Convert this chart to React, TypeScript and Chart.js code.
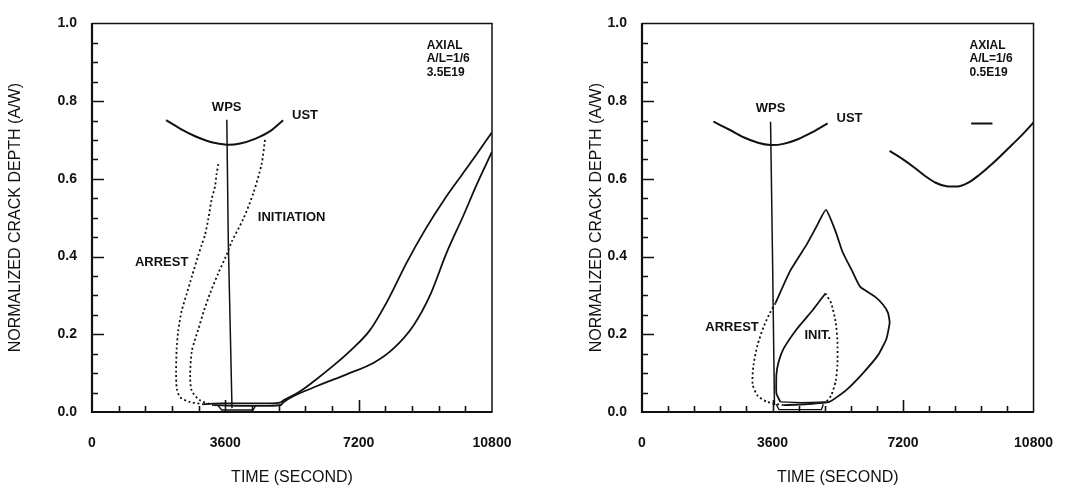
import React, { useEffect, useRef } from "react";
import { Chart, registerables } from "chart.js";
Chart.register(...registerables);

// ---------- axes ----------
const X_TICKS = [0, 3600, 7200, 10800];
const Y_TICKS = [0, 0.2, 0.4, 0.6, 0.8, 1.0];
const X_MINOR_STEP = 720;
const Y_MINOR_STEP = 0.05;

// ---------- left panel (3.5E19) ----------
const A_UST_X = [2000, 2400, 2800, 3200, 3640, 4000, 4400, 4800, 5160];
const A_UST_Y = [0.751, 0.728, 0.709, 0.695, 0.688, 0.691, 0.703, 0.722, 0.751];
const A_WPS_X = [3640, 3680, 3780];
const A_WPS_Y = [0.752, 0.44, 0.01];
const A_ARREST_X = [3410, 3365, 3320, 3230, 3140, 3050, 2960, 2860, 2700, 2560, 2420, 2330, 2286, 2270, 2290, 2380, 2640, 3000];
const A_ARREST_Y = [0.638, 0.613, 0.58, 0.547, 0.497, 0.455, 0.43, 0.4, 0.35, 0.305, 0.26, 0.21, 0.163, 0.1, 0.06, 0.038, 0.026, 0.02];
const A_ARREST_TAIL_X = [3000, 3500, 4200, 4800, 5080, 5170, 5600, 6000, 6500, 7000, 7500, 8000, 8500, 9000, 9500, 10000, 10400, 10800];
const A_ARREST_TAIL_Y = [0.02, 0.022, 0.022, 0.022, 0.024, 0.03, 0.052, 0.08, 0.118, 0.16, 0.21, 0.29, 0.385, 0.47, 0.545, 0.612, 0.665, 0.72];
const A_INIT_X = [4670, 4580, 4356, 4086, 3771, 3636, 3400, 3186, 3020, 2871, 2760, 2691, 2650, 2691, 2916, 3276];
const A_INIT_Y = [0.7, 0.638, 0.563, 0.497, 0.438, 0.405, 0.355, 0.305, 0.26, 0.213, 0.18, 0.155, 0.097, 0.055, 0.03, 0.0175];
const A_INIT_TAIL_X = [3276, 4000, 4800, 5100, 5170, 5976, 6876, 7596, 8136, 8676, 9126, 9576, 10026, 10386, 10800];
const A_INIT_TAIL_Y = [0.0175, 0.016, 0.016, 0.018, 0.025, 0.063, 0.097, 0.126, 0.163, 0.222, 0.3, 0.41, 0.505, 0.585, 0.67];
const A_BOX_X = [3400, 3500, 4350, 4420];
const A_BOX_Y = [0.017, 0.005, 0.005, 0.017];

// ---------- right panel (0.5E19) ----------
const B_UST_X = [1970, 2400, 2800, 3200, 3546, 3900, 4300, 4700, 5120];
const B_UST_Y = [0.747, 0.727, 0.707, 0.693, 0.687, 0.69, 0.702, 0.72, 0.743];
const B_WPS_X = [3546, 3600, 3654];
const B_WPS_Y = [0.747, 0.4, 0.0175];
const B_UST2_X = [6831, 7200, 7500, 7800, 8100, 8400, 8700, 9000, 9300, 9700, 10100, 10450, 10800];
const B_UST2_Y = [0.672, 0.65, 0.63, 0.608, 0.59, 0.581, 0.58, 0.59, 0.61, 0.642, 0.678, 0.71, 0.745];
const B_MARK_X = [9080, 9666];
const B_MARK_Y = [0.7425, 0.7425];
const B_ARREST_X = [3681, 4086, 4536, 4800, 5076, 5346, 5526, 5796, 6021, 6426, 6651, 6786, 6831, 6741, 6516, 6066, 5616, 5166, 4500, 3906];
const B_ARREST_Y = [0.28, 0.363, 0.43, 0.475, 0.52, 0.463, 0.413, 0.363, 0.322, 0.297, 0.276, 0.255, 0.23, 0.188, 0.147, 0.097, 0.055, 0.026, 0.02, 0.0175];
const B_ARREST_LOW_X = [3906, 3456, 3186, 3051, 3078, 3186, 3366, 3530, 3681];
const B_ARREST_LOW_Y = [0.0175, 0.026, 0.0425, 0.072, 0.122, 0.172, 0.222, 0.255, 0.28];
const B_INIT_X = [3816, 3708, 3708, 3771, 3906, 4266, 4716, 5058];
const B_INIT_Y = [0.026, 0.047, 0.097, 0.13, 0.163, 0.213, 0.263, 0.305];
const B_INIT_RIGHT_X = [5058, 5220, 5346, 5391, 5391, 5346, 5220, 5076];
const B_INIT_RIGHT_Y = [0.305, 0.28, 0.23, 0.18, 0.122, 0.08, 0.0425, 0.026];
const B_INIT_BASE_X = [5076, 4400, 3816];
const B_INIT_BASE_Y = [0.026, 0.024, 0.026];
const B_BOX_X = [3700, 3780, 4950, 5000];
const B_BOX_Y = [0.02, 0.006, 0.006, 0.02];

// ---------- text ----------
const X_TITLE = "TIME (SECOND)";
const Y_TITLE = "NORMALIZED CRACK DEPTH (A/W)";
const A_NOTE = ["AXIAL", "A/L=1/6", "3.5E19"];
const B_NOTE = ["AXIAL", "A/L=1/6", "0.5E19"];

const INK = "#111111";
const FONT = '"Liberation Sans", Arial, Helvetica, sans-serif';

type Style = { w?: number; dash?: number[]; t?: number; mono?: boolean };
const line = (xs: number[], ys: number[], s: Style = {}) => ({
  data: xs.map((x, i) => ({ x, y: ys[i] })),
  showLine: true,
  pointRadius: 0,
  borderColor: INK,
  backgroundColor: INK,
  borderWidth: s.w ?? 1.8,
  borderDash: s.dash ?? [],
  tension: s.t ?? 0.25,
  cubicInterpolationMode: s.mono ? "monotone" : "default",
  fill: false,
});
const DOT = [2, 2.6];

const datasetsA = [
  line(A_UST_X, A_UST_Y, { w: 2 }),
  line(A_WPS_X, A_WPS_Y, { w: 1.5, t: 0 }),
  line(A_ARREST_X, A_ARREST_Y, { dash: DOT }),
  line(A_ARREST_TAIL_X, A_ARREST_TAIL_Y, { mono: true }),
  line(A_INIT_X, A_INIT_Y, { dash: DOT }),
  line(A_INIT_TAIL_X, A_INIT_TAIL_Y, { mono: true }),
  line(A_BOX_X, A_BOX_Y, { w: 1.4, t: 0 }),
];
const datasetsB = [
  line(B_UST_X, B_UST_Y, { w: 2 }),
  line(B_WPS_X, B_WPS_Y, { w: 1.5, t: 0 }),
  line(B_UST2_X, B_UST2_Y, { w: 2, mono: true }),
  line(B_MARK_X, B_MARK_Y, { w: 2, t: 0 }),
  line(B_ARREST_X, B_ARREST_Y, { t: 0.15 }),
  line(B_ARREST_LOW_X, B_ARREST_LOW_Y, { dash: DOT }),
  line(B_INIT_X, B_INIT_Y, { t: 0.15 }),
  line(B_INIT_RIGHT_X, B_INIT_RIGHT_Y, { dash: DOT, t: 0.15 }),
  line(B_INIT_BASE_X, B_INIT_BASE_Y, { w: 1.4, t: 0 }),
  line(B_BOX_X, B_BOX_Y, { w: 1.4, t: 0 }),
];

type Label = { t: string; x: number; y: number };
const labelsA: Label[] = [
  { t: "WPS", x: 3636, y: 0.784 },
  { t: "UST", x: 5751, y: 0.763 },
  { t: "INITIATION", x: 5391, y: 0.5 },
  { t: "ARREST", x: 1881, y: 0.384 },
];
const labelsB: Label[] = [
  { t: "WPS", x: 3546, y: 0.78 },
  { t: "UST", x: 5724, y: 0.755 },
  { t: "ARREST", x: 2484, y: 0.2175 },
  { t: "INIT.", x: 4851, y: 0.197 },
];

function makePlugin(labels: Label[], note: string[]) {
  return {
    id: "frameAndText",
    afterDraw(chart: any) {
      const { ctx, chartArea } = chart;
      const { left, top, right, bottom } = chartArea;
      const xs = chart.scales.x;
      const ys = chart.scales.y;
      ctx.save();
      ctx.strokeStyle = INK;
      ctx.lineCap = "butt";
      ctx.lineWidth = 1.5;
      ctx.beginPath();
      ctx.moveTo(left, top);
      ctx.lineTo(right, top);
      ctx.lineTo(right, bottom);
      ctx.stroke();
      ctx.lineWidth = 2.2;
      ctx.beginPath();
      ctx.moveTo(left, top - 0.5);
      ctx.lineTo(left, bottom);
      ctx.lineTo(right + 0.5, bottom);
      ctx.stroke();
      ctx.lineWidth = 1.6;
      ctx.beginPath();
      for (let v = X_MINOR_STEP; v < 10800; v += X_MINOR_STEP) {
        const major = X_TICKS.some((t) => Math.abs(t - v) < 1e-6);
        const px = Math.round(xs.getPixelForValue(v)) + 0.5;
        ctx.moveTo(px, bottom);
        ctx.lineTo(px, bottom - (major ? 12 : 6));
      }
      for (let k = 1; k < 20; k++) {
        const v = k * Y_MINOR_STEP;
        const major = Y_TICKS.some((t) => Math.abs(t - v) < 1e-6);
        const py = Math.round(ys.getPixelForValue(v)) + 0.5;
        ctx.moveTo(left, py);
        ctx.lineTo(left + (major ? 12 : 6), py);
      }
      ctx.stroke();
      ctx.fillStyle = INK;
      ctx.font = `bold 13px ${FONT}`;
      ctx.textAlign = "center";
      ctx.textBaseline = "middle";
      for (const l of labels) {
        ctx.fillText(l.t, xs.getPixelForValue(l.x), ys.getPixelForValue(l.y));
      }
      ctx.font = `bold 12px ${FONT}`;
      ctx.textAlign = "left";
      const nx = xs.getPixelForValue(9036);
      const ny = ys.getPixelForValue(0.943);
      note.forEach((s, i) => ctx.fillText(s, nx, ny + i * 13.5));
      ctx.restore();
    },
  };
}

function makeConfig(datasets: any[], labels: Label[], note: string[], yWidth: number, padRight: number, yTitlePad: number) {
  return {
    type: "scatter" as const,
    data: { datasets },
    options: {
      responsive: false,
      animation: false as const,
      layout: { padding: { left: 0, right: padRight, top: 12, bottom: 0 } },
      plugins: { legend: { display: false }, tooltip: { enabled: false } },
      scales: {
        x: {
          type: "linear" as const,
          min: 0,
          max: 10800,
          afterBuildTicks: (s: any) => {
            s.ticks = X_TICKS.map((v) => ({ value: v }));
          },
          afterFit: (s: any) => {
            s.height = 84;
          },
          grid: { display: false, drawTicks: false },
          border: { display: false },
          ticks: {
            padding: 23,
            maxRotation: 0,
            autoSkip: false,
            color: INK,
            font: { family: FONT, size: 14, weight: "bold" as const },
            callback: (v: any) => String(v),
          },
          title: {
            display: true,
            text: X_TITLE,
            color: INK,
            font: { family: FONT, size: 16 },
            padding: { top: 0, bottom: 8.4 },
          },
        },
        y: {
          type: "linear" as const,
          min: 0,
          max: 1,
          afterBuildTicks: (s: any) => {
            s.ticks = Y_TICKS.map((v) => ({ value: v }));
          },
          afterFit: (s: any) => {
            s.width = yWidth;
          },
          grid: { display: false, drawTicks: false },
          border: { display: false },
          ticks: {
            padding: 15,
            color: INK,
            font: { family: FONT, size: 14, weight: "bold" as const },
            callback: (v: any) => Number(v).toFixed(1),
          },
          title: {
            display: true,
            text: Y_TITLE,
            color: INK,
            font: { family: FONT, size: 16 },
            padding: { top: yTitlePad, bottom: 0 },
          },
        },
      },
    },
    plugins: [makePlugin(labels, note)],
  };
}

function Panel({ left, config }: { left: number; config: any }) {
  const ref = useRef<HTMLCanvasElement | null>(null);
  useEffect(() => {
    if (!ref.current) return;
    const chart = new Chart(ref.current, config);
    return () => chart.destroy();
  }, []);
  return (
    <div style={{ position: "absolute", left, top: 0, width: 538, height: 496 }}>
      <canvas ref={ref} width={538} height={496} style={{ width: 538, height: 496, display: "block" }} />
    </div>
  );
}

export default function App() {
  const cfgA = makeConfig(datasetsA, labelsA, A_NOTE, 92, 46, 6.4);
  const cfgB = makeConfig(datasetsB, labelsB, B_NOTE, 104, 34, 49.4);
  return (
    <div style={{ position: "fixed", left: 0, top: 0, width: 1076, height: 496, background: "#fff" }}>
      <Panel left={0} config={cfgA} />
      <Panel left={538} config={cfgB} />
    </div>
  );
}
